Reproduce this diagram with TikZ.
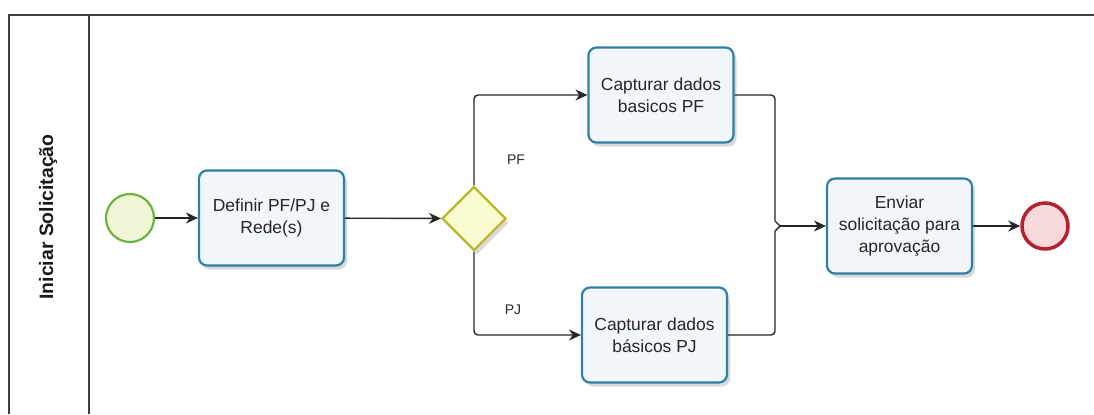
\documentclass[tikz,border=0pt]{standalone}
\usepackage{fontspec}
\setmainfont{Liberation Sans}
\usetikzlibrary{arrows.meta,shapes.geometric,shadows}
\definecolor{taskborder}{HTML}{2F7FA6}
\definecolor{taskfill}{HTML}{F2F6FB}
\definecolor{gwborder}{HTML}{B8B82A}
\definecolor{gwfill}{HTML}{FBFBD2}
\definecolor{startborder}{HTML}{6DB33F}
\definecolor{startfill}{HTML}{F1F7D6}
\definecolor{endborder}{HTML}{B3202E}
\definecolor{endfill}{HTML}{F7D9DB}
\begin{document}
\begin{tikzpicture}[x=1bp,y=-1bp,
  taskbox/.style={draw=taskborder,fill=taskfill,line width=2.2bp,rounded corners=8bp,
    minimum width=145bp,minimum height=95bp,align=center,inner sep=2bp,
    font=\fontsize{17.5}{22}\selectfont,text=black!85,
    drop shadow={shadow xshift=3bp,shadow yshift=-4bp,opacity=0.15,fill=black}},
  gwbox/.style={diamond,draw=gwborder,fill=gwfill,line width=2.2bp,
    minimum width=64bp,minimum height=64bp,inner sep=0pt,
    drop shadow={shadow xshift=3bp,shadow yshift=-4bp,opacity=0.15,fill=black}},
  startev/.style={circle,draw=startborder,fill=startfill,line width=2.2bp,
    minimum size=48bp,inner sep=0pt},
  endev/.style={circle,draw=endborder,fill=endfill,line width=3.5bp,
    minimum size=46bp,inner sep=0pt},
  flow/.style={draw=black!85,line width=1.4bp,rounded corners=4bp,
    -{Stealth[length=12bp,width=11bp]}},
  plainflow/.style={draw=black!85,line width=1.4bp,rounded corners=4bp},
  lbl/.style={font=\fontsize{14}{16}\selectfont,text=black!85}
]
\useasboundingbox (0,0) rectangle (1094,414);
% pool
\draw[black!75,line width=1.6bp] (1094,15) -- (9,15) -- (9,414);
\draw[black!75,line width=1.6bp] (89,15) -- (89,414);
\node[rotate=90,font=\bfseries\fontsize{19.5}{22}\selectfont,text=black!90] (lane) at (48,217) {Iniciar Solicitação};
% nodes
\node[startev] (start) at (130,218) {};
\node[taskbox] (def) at (271.5,218) {Definir PF/PJ e\\Rede(s)};
\node[gwbox] (gw) at (474,218.5) {};
\node[taskbox] (pf) at (661,95) {Capturar dados\\basicos PF};
\node[taskbox] (pj) at (654.5,335) {Capturar dados\\básicos PJ};
\node[taskbox] (env) at (899.5,226) {Enviar\\solicitação para\\aprovação};
\node[endev] (end) at (1045,226) {};
\coordinate (hopA) at (775,221);
\coordinate (hopB) at (780,226);
\coordinate (hopC) at (775,231);
% flows
\draw[flow] (start) -- (def);
\draw[flow] (def) -- (gw);
\draw[flow] (gw.north) |- (pf.west);
\draw[flow] (gw.south) |- (pj.west);
\draw[plainflow] (pf.east) -| (hopA);
\draw[plainflow,rounded corners=0pt] (hopA) -- (hopB) -- (hopC);
\draw[plainflow] (pj.east) -| (hopC);
\draw[flow] (hopB) -- (hopB -| env.west);
\draw[flow] (env.east) -- (end);
% labels
\node[lbl] (lpf) at (516,160) {PF};
\node[lbl] (lpj) at (513,310) {PJ};
\end{tikzpicture}
\end{document}
